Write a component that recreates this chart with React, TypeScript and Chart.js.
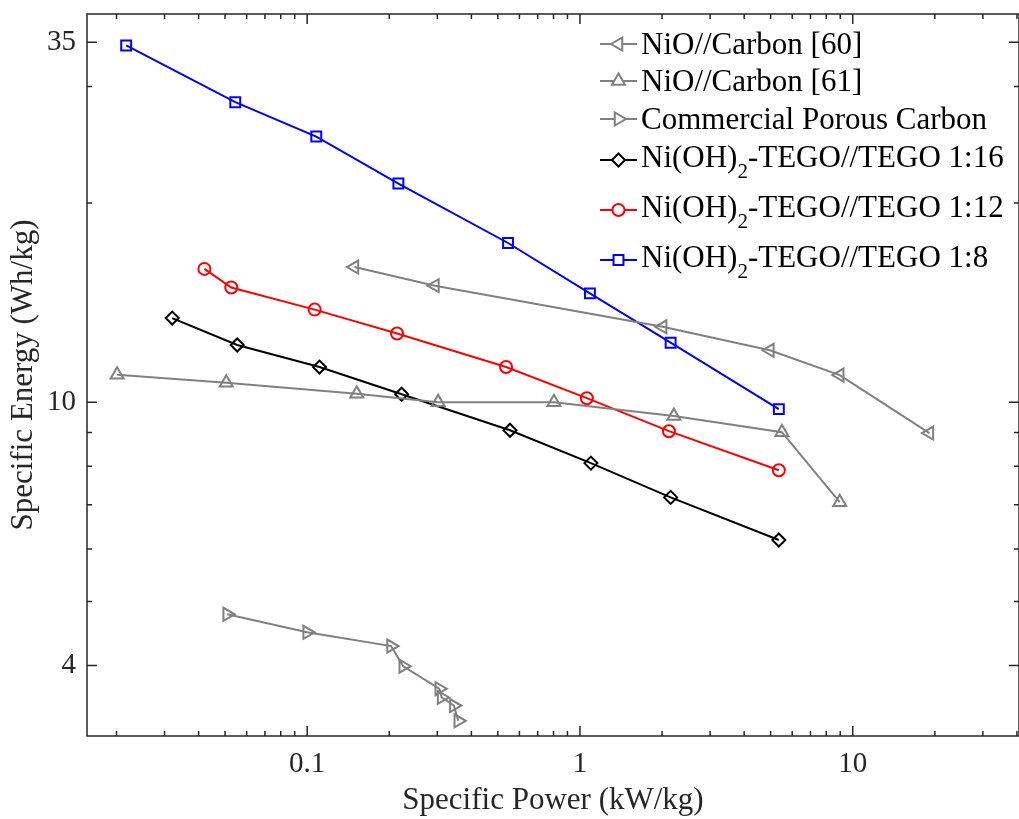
import React, { useEffect, useRef } from "react";
import { Chart, registerables } from "chart.js";
import { drawPoint } from "chart.js/helpers";

Chart.register(...registerables);

// ---- data ----
const nio60X = [0.149, 0.294, 2.01, 4.97, 8.96, 19.1];
const nio60Y = [16.0, 15.0, 13.0, 11.98, 10.99, 8.98];
const nio61X = [0.0201, 0.0505, 0.152, 0.302, 0.803, 2.21, 5.5, 8.96];
const nio61Y = [11.0, 10.7, 10.3, 10.0, 10.0, 9.53, 9.01, 7.06];
const cpcX = [0.0509, 0.1, 0.203, 0.225, 0.305, 0.311, 0.345, 0.358];
const cpcY = [4.78, 4.49, 4.28, 3.99, 3.69, 3.58, 3.48, 3.3];
const t16X = [0.032, 0.0554, 0.111, 0.222, 0.554, 1.097, 2.15, 5.36];
const t16Y = [13.4, 12.2, 11.3, 10.28, 9.07, 8.09, 7.18, 6.19];
const t12X = [0.042, 0.0527, 0.1065, 0.2135, 0.536, 1.06, 2.12, 5.36];
const t12Y = [15.9, 14.9, 13.8, 12.7, 11.3, 10.14, 9.04, 7.89];
const t8X = [0.0217, 0.0545, 0.108, 0.216, 0.545, 1.088, 2.15, 5.36];
const t8Y = [34.6, 28.4, 25.2, 21.4, 17.4, 14.6, 12.3, 9.76];

const seriesLabels = [
  "NiO//Carbon [60]",
  "NiO//Carbon [61]",
  "Commercial Porous Carbon",
  "Ni(OH)₂-TEGO//TEGO 1:16",
  "Ni(OH)₂-TEGO//TEGO 1:12",
  "Ni(OH)₂-TEGO//TEGO 1:8",
];

const xTicks = [
  0.02, 0.03, 0.04, 0.05, 0.06, 0.07, 0.08, 0.09, 0.1,
  0.2, 0.3, 0.4, 0.5, 0.6, 0.7, 0.8, 0.9, 1,
  2, 3, 4, 5, 6, 7, 8, 9, 10, 20, 30, 40,
];
const xTickLabels = [0.1, 1, 10];
const yTicks = [4, 5, 6, 7, 8, 9, 10, 20, 30, 35];
const yTickLabels = [4, 10, 35];

const X_MIN = 0.01559;
const X_MAX = 40.7;
const Y_MIN = 3.13;
const Y_MAX = 38.6;

const AXIS = "#262626";
const GREY = "#808080";
const SERIF = "'Liberation Serif', 'Times New Roman', serif";

const pts = (xs: number[], ys: number[]) => xs.map((x, i) => ({ x, y: ys[i] }));

const zeroPad = (s: any) => {
  s.paddingLeft = 0;
  s.paddingRight = 0;
  s.paddingTop = 0;
  s.paddingBottom = 0;
};

const frameTicks = {
  id: "frameTicks",
  afterDatasetsDraw(chart: any) {
    const { ctx, chartArea: a, scales } = chart;
    ctx.save();
    ctx.strokeStyle = AXIS;
    ctx.lineWidth = 1.5;
    ctx.strokeRect(a.left, a.top, a.right - a.left, a.bottom - a.top);
    ctx.beginPath();
    scales.x.ticks.forEach((t: any) => {
      const p = scales.x.getPixelForValue(t.value);
      const len = xTickLabels.includes(t.value) ? 10 : 5;
      ctx.moveTo(p, a.bottom);
      ctx.lineTo(p, a.bottom - len);
      ctx.moveTo(p, a.top);
      ctx.lineTo(p, a.top + len);
    });
    scales.y.ticks.forEach((t: any) => {
      const p = scales.y.getPixelForValue(t.value);
      const len = yTickLabels.includes(t.value) ? 10 : 5;
      ctx.moveTo(a.left, p);
      ctx.lineTo(a.left + len, p);
      ctx.moveTo(a.right, p);
      ctx.lineTo(a.right - len, p);
    });
    ctx.stroke();
    ctx.restore();
  },
};

const customLegend = {
  id: "customLegend",
  afterDraw(chart: any, _args: any, opts: any) {
    const { ctx } = chart;
    const rows: number[] = opts.rows;
    const markerOffset: number[] = opts.markerOffset;
    ctx.save();
    chart.data.datasets.forEach((ds: any, i: number) => {
      const cy = rows[i];
      const my = cy + markerOffset[i];
      const x0 = opts.x;
      const x1 = opts.x + opts.lineLen;
      ctx.strokeStyle = ds.borderColor;
      ctx.lineWidth = 2;
      ctx.beginPath();
      ctx.moveTo(x0, my);
      ctx.lineTo(x1, my);
      ctx.stroke();
      ctx.fillStyle = "#ffffff";
      ctx.strokeStyle = ds.pointBorderColor;
      ctx.lineWidth = 2;
      drawPoint(
        ctx,
        {
          pointStyle: ds.pointStyle,
          rotation: ds.pointRotation || 0,
          radius: ds.pointRadius,
          borderWidth: 2,
        } as any,
        (x0 + x1) / 2,
        my
      );
      const base = cy + 10;
      let tx = opts.textX;
      ctx.fillStyle = "#000000";
      ctx.textBaseline = "alphabetic";
      ctx.textAlign = "left";
      const parts = String(ds.label).split("₂");
      parts.forEach((part: string, k: number) => {
        ctx.font = `31px ${SERIF}`;
        ctx.fillText(part, tx, base);
        tx += ctx.measureText(part).width;
        if (k < parts.length - 1) {
          ctx.font = `21px ${SERIF}`;
          ctx.fillText("2", tx, base + 11);
          tx += ctx.measureText("2").width;
        }
      });
    });
    ctx.restore();
  },
};

export default function App() {
  const ref = useRef<HTMLCanvasElement>(null);

  useEffect(() => {
    if (!ref.current) return;
    const mk = (
      label: string,
      xs: number[],
      ys: number[],
      color: string,
      style: string,
      rotation: number,
      radius: number
    ) => ({
      label,
      data: pts(xs, ys),
      showLine: true,
      borderColor: color,
      borderWidth: 2,
      pointBorderColor: color,
      pointBackgroundColor: "rgba(0,0,0,0)",
      pointBorderWidth: 2,
      pointStyle: style,
      pointRotation: rotation,
      pointRadius: radius,
      pointHoverRadius: radius,
      tension: 0,
    });

    const chart = new Chart(ref.current, {
      type: "scatter",
      data: {
        datasets: [
          mk(seriesLabels[0], nio60X, nio60Y, GREY, "triangle", -90, 7.5),
          mk(seriesLabels[1], nio61X, nio61Y, GREY, "triangle", 0, 7.5),
          mk(seriesLabels[2], cpcX, cpcY, GREY, "triangle", 90, 7.5),
          mk(seriesLabels[3], t16X, t16Y, "#000000", "rectRot", 0, 6.5),
          mk(seriesLabels[4], t12X, t12Y, "#ff0000", "circle", 0, 6),
          mk(seriesLabels[5], t8X, t8Y, "#0000ff", "rect", 0, 7),
        ] as any,
      },
      options: {
        animation: false,
        responsive: false,
        devicePixelRatio: 1,
        events: [],
        layout: { autoPadding: false, padding: { top: 14, left: 0, right: 0, bottom: 0 } },
        plugins: {
          legend: { display: false },
          tooltip: { enabled: false },
          customLegend: {
            x: 600,
            lineLen: 37,
            textX: 641,
            rows: [44, 81, 119, 157, 207, 257],
            markerOffset: [0, 0, 0, 3, 3, 3],
          },
        } as any,
        scales: {
          x: {
            type: "logarithmic",
            min: X_MIN,
            max: X_MAX,
            afterBuildTicks: (s: any) => {
              s.ticks = xTicks.map((v) => ({ value: v, major: xTickLabels.includes(v) }));
            },
            afterFit: (s: any) => {
              s.height = 83;
              zeroPad(s);
            },
            grid: { display: false, drawTicks: false },
            border: { display: false },
            ticks: {
              autoSkip: false,
              maxRotation: 0,
              minRotation: 0,
              padding: 11,
              color: AXIS,
              font: { family: SERIF, size: 29 },
              callback: (v: any) => (xTickLabels.includes(Number(v)) ? String(v) : ""),
            },
            title: {
              display: true,
              text: "Specific Power (kW/kg)",
              color: AXIS,
              font: { family: SERIF, size: 31 },
              padding: { top: 0, bottom: 0 },
            },
          },
          y: {
            type: "logarithmic",
            min: Y_MIN,
            max: Y_MAX,
            afterBuildTicks: (s: any) => {
              s.ticks = yTicks.map((v) => ({ value: v, major: yTickLabels.includes(v) }));
            },
            afterFit: (s: any) => {
              s.width = 87;
              zeroPad(s);
            },
            grid: { display: false, drawTicks: false },
            border: { display: false },
            ticks: {
              autoSkip: false,
              padding: 11,
              color: AXIS,
              font: { family: SERIF, size: 29 },
              callback: (v: any) => (yTickLabels.includes(Number(v)) ? String(v) : ""),
            },
            title: {
              display: true,
              text: "Specific Energy (Wh/kg)",
              color: AXIS,
              font: { family: SERIF, size: 31 },
              padding: { top: 5, bottom: 0 },
            },
          },
        },
      } as any,
      plugins: [frameTicks, customLegend],
    });
    return () => chart.destroy();
  }, []);

  return (
    <div style={{ position: "absolute", left: 0, top: 0, width: 1019, height: 819, background: "#fff" }}>
      <canvas ref={ref} width={1019} height={819} />
    </div>
  );
}
